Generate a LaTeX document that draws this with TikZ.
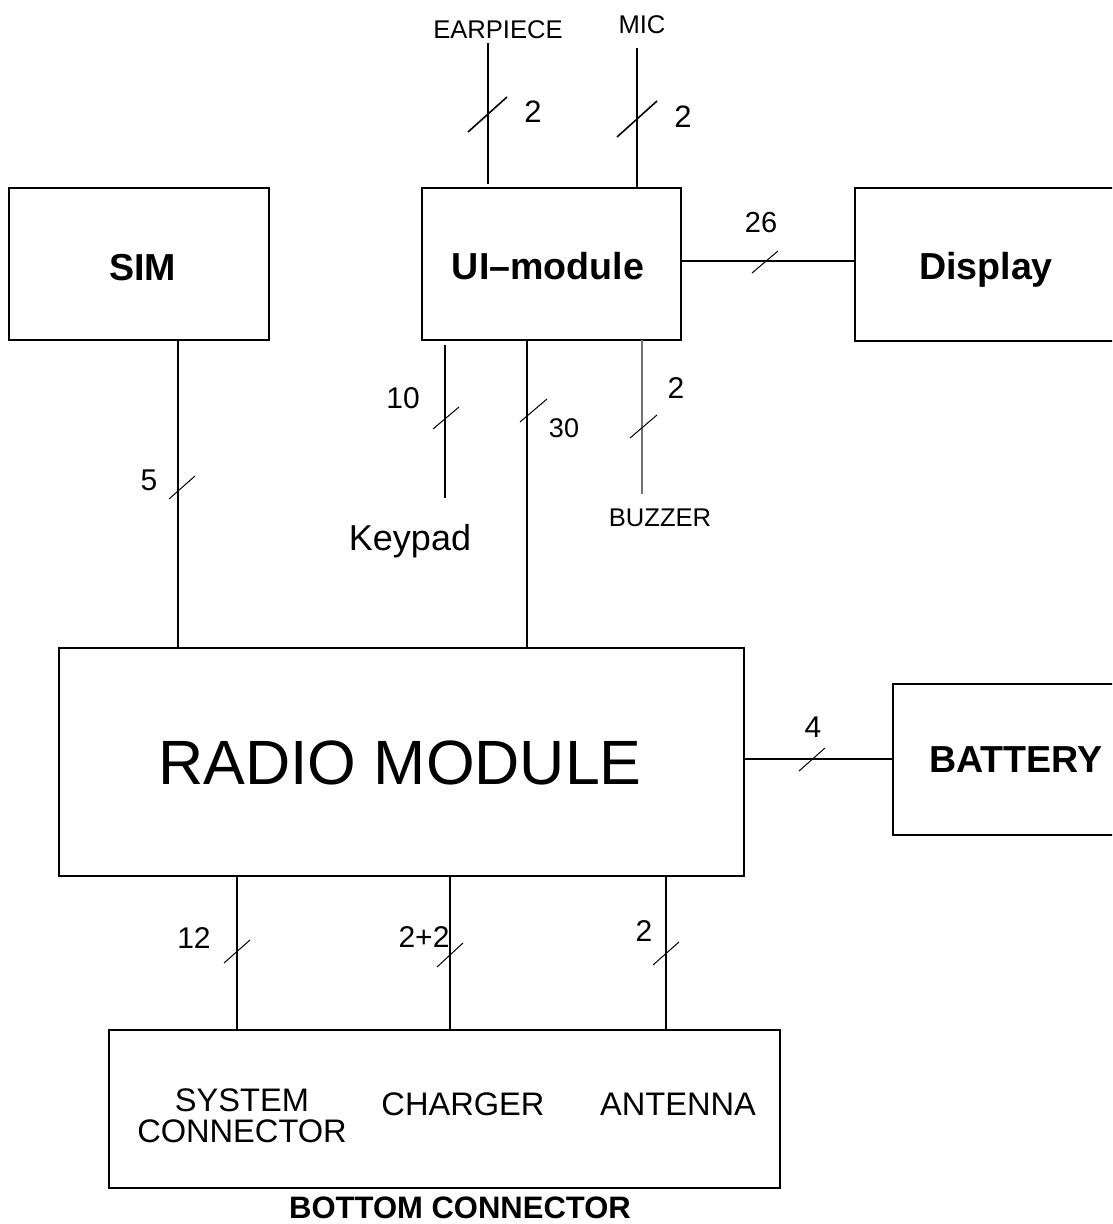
\documentclass[tikz,border=0pt]{standalone}
\usepackage{fontspec}
\setmainfont{Liberation Sans}
\usetikzlibrary{calc}
\begin{document}
\begin{tikzpicture}[x=0.5pt,y=-0.5pt,
  box/.style={draw, line width=1pt, inner sep=0pt, outer sep=0pt},
  txt/.style={inner sep=0pt},
  bigfont/.style={inner sep=0pt, font=\bfseries\fontsize{18.8}{22}\selectfont},
  wire/.style={line width=1pt},
  thinwire/.style={line width=0.6pt},
  slash/.style={line width=0.5pt},
  slashbold/.style={line width=0.8pt},
  lbl/.style={inner sep=0pt, font=\fontsize{15}{18}\selectfont},
  smalllbl/.style={inner sep=0pt, font=\fontsize{12.8}{15}\selectfont}]
\useasboundingbox (0,0) rectangle (1112,1224);
\clip (0,0) rectangle (1112,1224);

% boxes
\node[box, minimum width=130pt, minimum height=76pt] (sim) at (139,264) {};
\node[box, minimum width=129.5pt, minimum height=76pt] (ui) at (551.5,264) {};
\node[box, minimum width=131pt, minimum height=76.5pt] (display) at (986,264.5) {};
\node[box, minimum width=342.5pt, minimum height=114pt] (radio) at (401.5,762) {};
\node[box, minimum width=122pt, minimum height=75.5pt] (battery) at (1015,759.5) {};
\node[box, minimum width=335.5pt, minimum height=79pt] (bottom) at (444.5,1109) {};

% box texts
\node[bigfont] (simtxt) at (142.5,267.5) {SIM};
\node[bigfont] (uitxt) at (548,266) {UI–module};
\node[bigfont] (disptxt) at (986,270) {Display};
\node[txt, font=\fontsize{31.3}{36}\selectfont] (radiotxt) at (400,763) {RADIO MODULE};
\node[bigfont] (battxt) at (1016,759.5) {BATTERY};

% texts inside bottom box
\node[txt, align=center, font=\fontsize{16.3}{15.7}\selectfont] (sysc) at (242,1116) {SYSTEM\\CONNECTOR};
\node[txt, font=\fontsize{16.3}{19}\selectfont] (chg) at (463,1104) {CHARGER};
\node[txt, font=\fontsize{16.3}{19}\selectfont] (ant) at (678,1104) {ANTENNA};
\node[txt, font=\bfseries\fontsize{15.5}{18}\selectfont] (botlbl) at (460,1208) {BOTTOM CONNECTOR};

% free-end labels
\node[smalllbl] (earlbl) at (498,30) {EARPIECE};
\node[smalllbl] (miclbl) at (642,25) {MIC};
\node[txt, font=\fontsize{18}{21}\selectfont] (keylbl) at (410,541) {Keypad};
\node[smalllbl] (buzlbl) at (660,518) {BUZZER};

% coordinates
\coordinate (ep) at (488,43);
\coordinate (epend) at (488,184);
\coordinate (mc) at (637,48);
\coordinate (dl) at (760,261);
\coordinate (kptop) at (445,345);
\coordinate (kpbot) at (445,498);
\coordinate (c30) at (527,500);
\coordinate (bz) at (642,494);
\coordinate (c5) at (178,500);
\coordinate (bl) at (800,759);
\coordinate (c12) at (237,950);
\coordinate (c22) at (450,950);
\coordinate (c2) at (666,950);

% connectors
\draw[wire] (ep) -- (epend);
\draw[wire] (mc) -- (mc |- ui.north);
\draw[wire] (ui.east |- dl) -- (display.west |- dl);
\draw[thinwire] (kptop) -- (kpbot);
\draw[wire] (c30 |- ui.south) -- (c30 |- radio.north);
\draw[thinwire, black!55] (bz |- ui.south) -- (bz);
\draw[wire] (c5 |- sim.south) -- (c5 |- radio.north);
\draw[thinwire] (radio.east |- bl) -- (battery.west |- bl);
\draw[wire] (c12 |- radio.south) -- (c12 |- bottom.north);
\draw[wire] (c22 |- radio.south) -- (c22 |- bottom.north);
\draw[wire] (c2 |- radio.south) -- (c2 |- bottom.north);

% bus slashes
\draw[slashbold] (468,132) -- (507,97);
\draw[slashbold] (617,137) -- (657,101);
\draw[slash] (433,429) -- (459,407);
\draw[slash] (520,422) -- (547,399);
\draw[slash] (630,438) -- (657,415);
\draw[slash] (752,273) -- (778,251);
\draw[slash] (169,499) -- (195,476);
\draw[slash] (799,771) -- (825,748);
\draw[slash] (224,963) -- (250,940);
\draw[slash] (437,967) -- (463,943);
\draw[slash] (653,965) -- (679,942);

% bus widths
\node[lbl, font=\fontsize{15.5}{18}\selectfont] (n1) at (533,112) {2};
\node[lbl, font=\fontsize{15.5}{18}\selectfont] (n2) at (683,117) {2};
\node[lbl, font=\fontsize{14.5}{18}\selectfont] (n3) at (761,223) {26};
\node[lbl] (n4) at (403,398) {10};
\node[lbl, font=\fontsize{13.5}{16}\selectfont] (n5) at (564,428) {30};
\node[lbl] (n6) at (676,388) {2};
\node[lbl] (n7) at (149,480) {5};
\node[lbl] (n8) at (813,727) {4};
\node[lbl] (n9) at (194,938) {12};
\node[lbl] (n10) at (424,937) {2+2};
\node[lbl] (n11) at (644,931) {2};
\end{tikzpicture}
\end{document}
